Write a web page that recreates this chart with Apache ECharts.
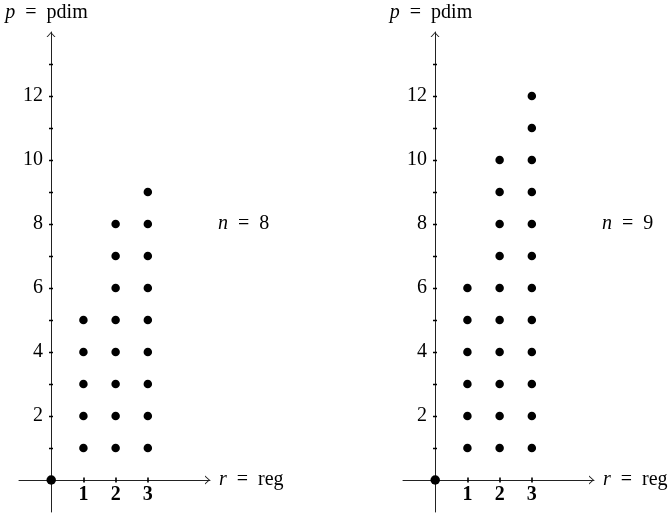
<!DOCTYPE html>
<html><head><meta charset="utf-8">
<script src="https://cdn.jsdelivr.net/npm/echarts@6/dist/echarts.min.js"></script>
<style>html,body{margin:0;padding:0;background:#fff}#c{width:670px;height:514px}</style>
</head><body><div id="c"></div>
<script>
// ---- data ----
const leftR1 = [1, 2, 3, 4, 5];
const leftR2 = [1, 2, 3, 4, 5, 6, 7, 8];
const leftR3 = [1, 2, 3, 4, 5, 6, 7, 8, 9];
const rightR1 = [1, 2, 3, 4, 5, 6];
const rightR2 = [1, 2, 3, 4, 5, 6, 7, 8, 9, 10];
const rightR3 = [1, 2, 3, 4, 5, 6, 7, 8, 9, 10, 11, 12];
const originPoint = [0, 0];
const nValues = [8, 9];
const xTickValues = [1, 2, 3];
const xLabelValues = [1, 2, 3];
const yTickValues = [1, 2, 3, 4, 5, 6, 7, 8, 9, 10, 11, 12, 13];
const yLabelValues = [2, 4, 6, 8, 10, 12];

const FONT = '"Liberation Serif", "DejaVu Serif", serif';
const arrowPath = 'path://M0,5 L4.5,0 L9,5 L7.8,5 L4.5,1.35 L1.2,5 Z';
const lineCol = '#222';

function xAxes(gi) {
  const base = {
    type: 'value', gridIndex: gi, min: -1, max: 4.93, position: 'bottom', offset: -32,
    splitLine: { show: false }
  };
  return [
    Object.assign({}, base, {
      axisLine: { show: true, onZero: false, lineStyle: { color: lineCol, width: 1 },
        symbol: ['none', arrowPath], symbolSize: [9, 5], symbolOffset: [0, -2.5] },
      axisTick: { show: true, customValues: xTickValues, length: 2.5, inside: false, lineStyle: { color: '#000', width: 1.6 } },
      axisLabel: { show: true, customValues: xLabelValues, margin: 5, fontFamily: FONT, fontSize: 20, fontWeight: 'bold', color: '#000' }
    }),
    Object.assign({}, base, {
      axisLine: { show: false, onZero: false },
      axisTick: { show: true, customValues: xTickValues, length: 2.5, inside: true, lineStyle: { color: '#000', width: 1.6 } },
      axisLabel: { show: false }
    })
  ];
}
function yAxes(gi) {
  const base = {
    type: 'value', gridIndex: gi, min: -1, max: 14, position: 'left', offset: -32,
    splitLine: { show: false }
  };
  return [
    Object.assign({}, base, {
      axisLine: { show: true, onZero: false, lineStyle: { color: lineCol, width: 1 },
        symbol: ['none', arrowPath], symbolSize: [9, 5], symbolOffset: [0, -2.5] },
      axisTick: { show: true, customValues: yTickValues, length: 2, inside: false, lineStyle: { color: '#000', width: 1.4 } },
      axisLabel: { show: true, customValues: yLabelValues, margin: 8, fontFamily: FONT, fontSize: 20, color: '#000' }
    }),
    Object.assign({}, base, {
      axisLine: { show: false, onZero: false },
      axisTick: { show: true, customValues: yTickValues, length: 2, inside: true, lineStyle: { color: '#000', width: 1.4 } },
      axisLabel: { show: false }
    })
  ];
}

function pts(r, arr) { return arr.map(p => [r, p]); }
function dots(xi, yi, data, size) {
  return { type: 'scatter', xAxisIndex: xi, yAxisIndex: yi, data: data, symbol: 'circle',
    symbolSize: size, itemStyle: { color: '#000', opacity: 1 }, silent: true, animation: false, clip: false };
}

const chart = echarts.init(document.getElementById('c'), null, { renderer: 'canvas' });
const rich = {
  i: { fontFamily: FONT, fontStyle: 'italic', fontSize: 20, color: '#000' },
  r: { fontFamily: FONT, fontSize: 20, color: '#000' }
};
function label(x, y, text, align) {
  return { type: 'text', x: x, y: y, silent: true,
    style: { text: text, rich: rich, align: align, verticalAlign: 'middle', fontFamily: FONT, fontSize: 20, fill: '#000' } };
}
chart.setOption({
  animation: false,
  backgroundColor: '#fff',
  grid: [
    { left: 19, top: 32, width: 191, height: 480, outerBoundsMode: 'none', containLabel: false },
    { left: 403, top: 32, width: 191, height: 480, outerBoundsMode: 'none', containLabel: false }
  ],
  xAxis: xAxes(0).concat(xAxes(1)),
  yAxis: yAxes(0).concat(yAxes(1)),
  series: [
    dots(0, 0, pts(1, leftR1).concat(pts(2, leftR2), pts(3, leftR3)), 8.5),
    dots(0, 0, [originPoint], 9.5),
    dots(2, 2, pts(1, rightR1).concat(pts(2, rightR2), pts(3, rightR3)), 8.5),
    dots(2, 2, [originPoint], 9.5)
  ],
  graphic: [
    label(46.5, 13, '{i|p}{r|\u2002=\u2002pdim}', 'center'),
    label(219, 480, '{i|r}{r|\u2002=\u2002reg}', 'left'),
    label(218, 224, '{i|n}{r|\u2002=\u2002' + nValues[0] + '}', 'left'),
    label(431, 13, '{i|p}{r|\u2002=\u2002pdim}', 'center'),
    label(603, 480, '{i|r}{r|\u2002=\u2002reg}', 'left'),
    label(602, 224, '{i|n}{r|\u2002=\u2002' + nValues[1] + '}', 'left')
  ]
});
</script></body></html>
